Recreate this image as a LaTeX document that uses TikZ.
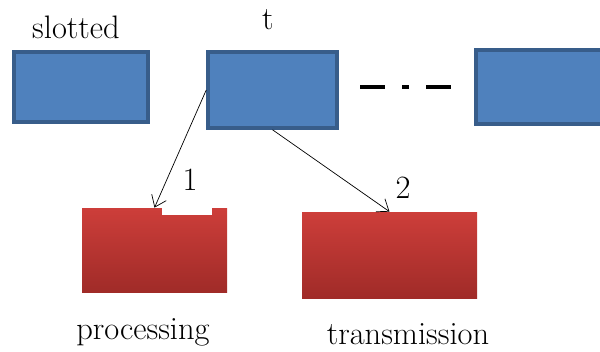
\documentclass[tikz,border=0pt]{standalone}
\usetikzlibrary{arrows.meta}
\definecolor{slotfill}{HTML}{4F81BD}
\definecolor{slotline}{HTML}{385D8A}
\definecolor{redtop}{HTML}{CD3E3A}
\definecolor{redbot}{HTML}{A02B28}
\begin{document}
\begin{tikzpicture}[>={Straight Barb[length=6pt,width=9pt]},
	slot/.style={rectangle, draw=slotline, line width=2pt, fill=slotfill, inner sep=0pt},
	task/.style={rectangle, top color=redtop, bottom color=redbot, draw=none, inner sep=0pt},
	lbl/.style={font=\fontsize{18.5}{22}\selectfont}]
	\useasboundingbox (0,0) rectangle (12,-7.04);
	\node (S1) at ( 1.62, -1.74)	[slot, minimum width=2.68cm, minimum height=1.40cm]	{};
	\node (S2) at ( 5.45, -1.80)	[slot, minimum width=2.58cm, minimum height=1.52cm]	{};
	\node (S3) at (10.80, -1.74)	[slot, minimum width=2.56cm, minimum height=1.48cm]	{};
	\node (P)  at ( 3.09, -5.00)	[task, minimum width=2.90cm, minimum height=1.68cm]	{};
	\node (T)  at ( 7.79, -5.10)	[task, minimum width=3.50cm, minimum height=1.72cm]	{};
	\fill[white] (3.24,-4.12) rectangle (4.24,-4.30);
	\draw[line width=2.6pt, dash pattern=on 0.5cm off 0.34cm on 0.14cm off 0.34cm] (7.2,-1.74) -- (9.02,-1.74);
	\node (slotted) at (1.52, -0.54)	[lbl]	{slotted};
	\node (tlab)    at (5.36, -0.40)	[lbl]	{t};
	\node (one)     at (3.80, -3.60)	[lbl]	{1};
	\node (two)     at (8.06, -3.76)	[lbl]	{2};
	\node (proc)    at (2.86, -6.64)	[lbl]	{processing};
	\node (trans)   at (8.16, -6.68)	[lbl]	{transmission};
	\draw[->, thin] (S2.west) -- (P.north);
	\draw[->, thin] (S2.south) -- (T.north);
\end{tikzpicture}
\end{document}
